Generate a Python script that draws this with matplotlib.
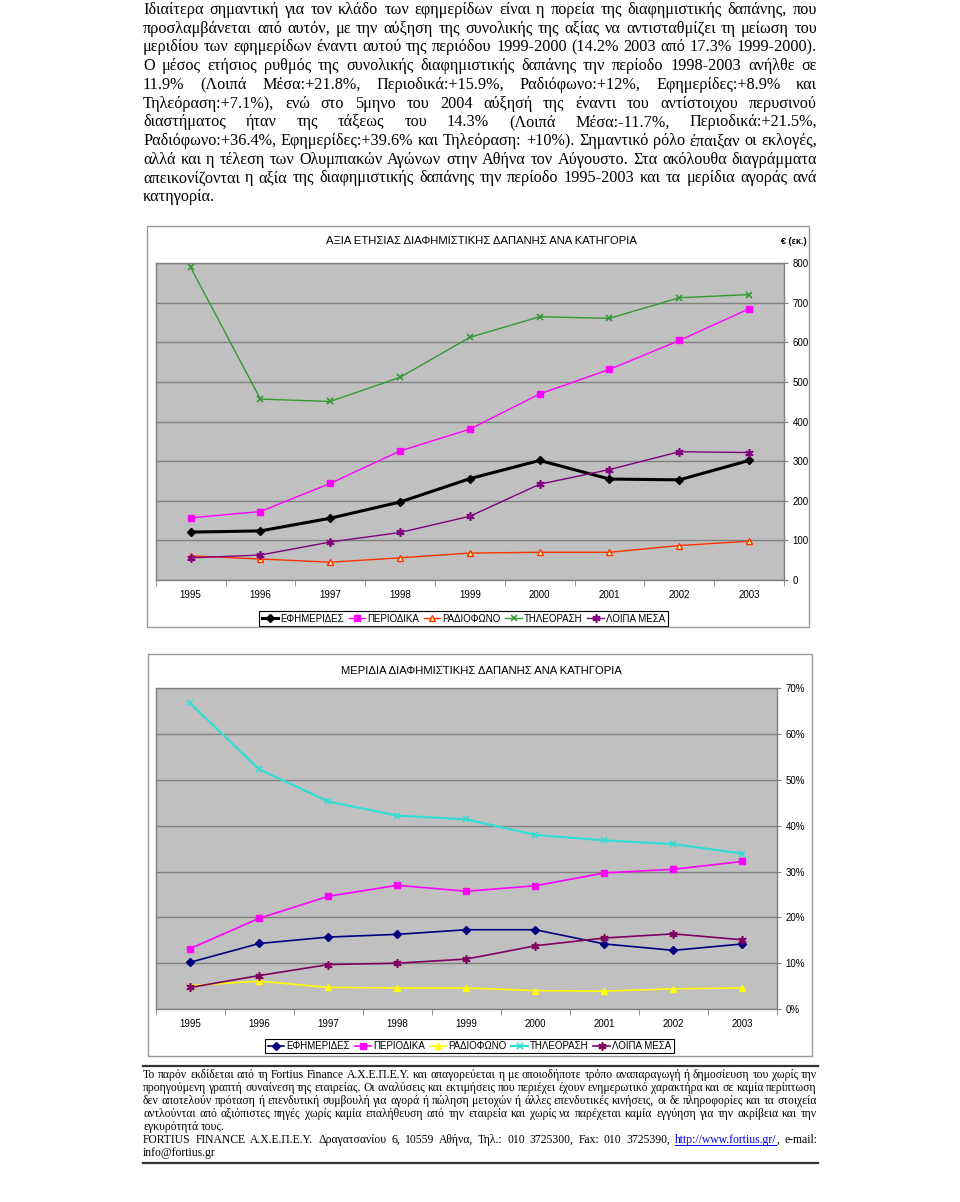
import matplotlib
matplotlib.use('Agg')
import matplotlib.pyplot as plt
from matplotlib.lines import Line2D
from matplotlib.patches import Rectangle
import numpy as np

W, H = 960, 1202
SERIF = 'Liberation Serif'
SANS = 'Liberation Sans'
plt.rcParams['font.family'] = [SANS, 'DejaVu Sans']

years = ['1995', '1996', '1997', '1998', '1999', '2000', '2001', '2002', '2003']
names = ['ΕΦΗΜΕΡΙΔΕΣ', 'ΠΕΡΙΟΔΙΚΑ', 'ΡΑΔΙΟΦΩΝΟ', 'ΤΗΛΕΟΡΑΣΗ', 'ΛΟΙΠΑ ΜΕΣΑ']

# αξία δαπάνης (εκ. €)
val_efimerides = [121, 124, 156, 197, 256, 302, 255, 253, 302]
val_periodika = [157, 173, 244, 326, 381, 470, 532, 605, 685]
val_radiofono = [61, 53, 45, 56, 68, 70, 70, 87, 98]
val_tileorasi = [790, 457, 451, 512, 613, 665, 661, 713, 721]
val_loipa = [56, 63, 96, 120, 161, 242, 279, 324, 322]

# μερίδια (%)
shr_efimerides = [10.2, 14.3, 15.7, 16.3, 17.3, 17.3, 14.2, 12.8, 14.2]
shr_periodika = [13.2, 19.8, 24.6, 27.0, 25.7, 26.9, 29.7, 30.5, 32.2]
shr_radiofono = [5.1, 6.1, 4.7, 4.6, 4.6, 4.0, 3.9, 4.4, 4.6]
shr_tileorasi = [66.7, 52.3, 45.3, 42.2, 41.4, 38.0, 36.8, 36.0, 33.9]
shr_loipa = [4.7, 7.3, 9.7, 10.0, 10.9, 13.8, 15.5, 16.4, 15.1]

title1 = 'ΑΞΙΑ ΕΤΗΣΙΑΣ ΔΙΑΦΗΜΙΣΤΙΚΗΣ ΔΑΠΑΝΗΣ ΑΝΑ ΚΑΤΗΓΟΡΙΑ'
title2 = 'ΜΕΡΙΔΙΑ ΔΙΑΦΗΜΙΣΤΙΚΗΣ ΔΑΠΑΝΗΣ ΑΝΑ ΚΑΤΗΓΟΡΙΑ'
unit1 = '€ (εκ.)'

intro_lines = [
    'Ιδιαίτερα σημαντική για τον κλάδο των εφημερίδων είναι η πορεία της διαφημιστικής δαπάνης, που',
    'προσλαμβάνεται από αυτόν, με την αύξηση της συνολικής της αξίας να αντισταθμίζει τη μείωση του',
    'μεριδίου των εφημερίδων έναντι αυτού της περιόδου 1999-2000 (14.2% 2003 από 17.3% 1999-2000).',
    'Ο μέσος ετήσιος ρυθμός της συνολικής διαφημιστικής δαπάνης την περίοδο 1998-2003 ανήλθε σε',
    '11.9% (Λοιπά Μέσα:+21.8%, Περιοδικά:+15.9%, Ραδιόφωνο:+12%, Εφημερίδες:+8.9% και',
    'Τηλεόραση:+7.1%), ενώ στο 5μηνο του 2004 αύξησή της έναντι του αντίστοιχου περυσινού',
    'διαστήματος ήταν της τάξεως του 14.3% (Λοιπά Μέσα:-11.7%, Περιοδικά:+21.5%,',
    'Ραδιόφωνο:+36.4%, Εφημερίδες:+39.6% και Τηλεόραση: +10%). Σημαντικό ρόλο έπαιξαν οι εκλογές,',
    'αλλά και η τέλεση των Ολυμπιακών Αγώνων στην Αθήνα τον Αύγουστο. Στα ακόλουθα διαγράμματα',
    'απεικονίζονται η αξία της διαφημιστικής δαπάνης την περίοδο 1995-2003 και τα μερίδια αγοράς ανά',
    'κατηγορία.',
]

footer_lines = [
    'Το παρόν εκδίδεται από τη Fortius Finance Α.Χ.Ε.Π.Ε.Υ. και απαγορεύεται η με οποιοδήποτε τρόπο αναπαραγωγή ή δημοσίευση του χωρίς την',
    'προηγούμενη γραπτή συναίνεση της εταιρείας. Οι αναλύσεις και εκτιμήσεις που περιέχει έχουν ενημερωτικό χαρακτήρα και σε καμία περίπτωση',
    'δεν αποτελούν πρόταση ή επενδυτική συμβουλή για αγορά ή πώληση μετοχών ή άλλες επενδυτικές κινήσεις, οι δε πληροφορίες και τα στοιχεία',
    'αντλούνται από αξιόπιστες πηγές χωρίς καμία επαλήθευση από την εταιρεία και χωρίς να παρέχεται καμία εγγύηση για την ακρίβεια και την',
    'εγκυρότητά τους.',
    'FORTIUS FINANCE Α.Χ.Ε.Π.Ε.Υ. Δραγατσανίου 6, 10559 Αθήνα, Τηλ.: 010 3725300, Fax: 010 3725390, http://www.fortius.gr/, e-mail:',
    'info@fortius.gr',
]
link_text = 'http://www.fortius.gr/'


def fx(x):
    return x / W


def fy(y):
    return 1 - y / H


fig = plt.figure(figsize=(W / 100, H / 100), dpi=100)
fig.patch.set_facecolor('white')
r = fig.canvas.get_renderer()


def text_width(s, size):
    t = fig.text(0, 0, s, fontsize=size, family=SERIF)
    w = t.get_window_extent(renderer=r).width
    t.remove()
    return w


def fit_size(lines, base, target):
    # shrink/grow font so the widest justified line fits the text column
    size = base
    for _ in range(2):
        widest = max(text_width(ln, size) for ln in lines)
        size = size * target / widest
    return size


def draw_paragraph(lines, x0, x1, base_y, step, size, last_lines, color='black'):
    space = text_width('a a', size) - text_width('aa', size)
    for i, ln in enumerate(lines):
        y = base_y + i * step
        words = ln.split(' ')
        widths = [text_width(w, size) for w in words]
        if i in last_lines or len(words) == 1:
            gap = space
        else:
            gap = (x1 - x0 - sum(widths)) / (len(words) - 1)
        x = x0
        for w, wd in zip(words, widths):
            if w.startswith(link_text):
                lw_ = text_width(link_text, size)
                fig.text(fx(x), fy(y), link_text, fontsize=size, family=SERIF,
                         color='#0000EE', va='baseline')
                fig.add_artist(Line2D([fx(x), fx(x + lw_)], [fy(y + 1.5)] * 2,
                                      color='#0000EE', lw=0.7))
                fig.text(fx(x + lw_), fy(y), w[len(link_text):], fontsize=size,
                         family=SERIF, color=color, va='baseline')
            else:
                fig.text(fx(x), fy(y), w, fontsize=size, family=SERIF,
                         color=color, va='baseline')
            x += wd + gap


# --- top paragraph ---
intro_size = fit_size(intro_lines[:-1], 12, 670)
draw_paragraph(intro_lines, 143, 817, 14, 18.7, intro_size, last_lines={10})

# --- footer ---
foot_size = fit_size([footer_lines[i] for i in (0, 1, 2, 3, 5)], 8.5, 670)
fig.add_artist(Line2D([fx(143), fx(818)], [fy(1066)] * 2, color='#333333', lw=1.6))
fig.add_artist(Line2D([fx(143), fx(818)], [fy(1163)] * 2, color='#333333', lw=1.6))
draw_paragraph(footer_lines, 143, 817, 1078, 13, foot_size, last_lines={4, 6})


def chart_box(left, top, right, bottom):
    fig.add_artist(Rectangle((fx(left), fy(bottom)), (right - left) / W, (bottom - top) / H,
                             transform=fig.transFigure, fill=False, ec='#9a9a9a', lw=1))


def px_axes(left, top, right, bottom):
    return fig.add_axes([fx(left), fy(bottom), (right - left) / W, (bottom - top) / H])


def style_axes(ax, ymax, step):
    ax.set_facecolor('#C0C0C0')
    for s in ax.spines.values():
        s.set_color('#808080')
        s.set_linewidth(1)
    ax.yaxis.tick_right()
    ax.set_xlim(-0.5, len(years) - 0.5)
    ax.set_ylim(0, ymax)
    ax.set_yticks(np.arange(0, ymax + step / 2, step))
    ax.grid(axis='y', color='#808080', lw=1)
    ax.set_axisbelow(True)
    ax.set_xticks(range(len(years)))
    ax.set_xticklabels(years)
    ax.set_xticks(np.arange(-0.5, len(years), 1), minor=True)
    ax.tick_params(axis='x', which='major', length=0, pad=7, labelsize=7)
    ax.tick_params(axis='x', which='minor', length=4, direction='out', color='#808080')
    ax.tick_params(axis='y', length=3, pad=3, color='#808080', labelsize=7)


def add_legend(ax, cx, cy):
    leg = ax.legend(loc='center', bbox_to_anchor=(fx(cx), fy(cy)), bbox_transform=fig.transFigure,
                    ncol=5, fontsize=7, frameon=True, fancybox=False, edgecolor='black',
                    framealpha=1, handlelength=1.7, handletextpad=0.25, columnspacing=0.45,
                    borderpad=0.25, borderaxespad=0)
    leg.get_frame().set_linewidth(0.8)


star = (6, 2, 0)
x = np.arange(len(years))

# --- chart 1: values ---
chart_box(147, 226, 809, 627)
ax1 = px_axes(155.7, 263.3, 784, 580)
style_axes(ax1, 800, 100)
ax1.plot(x, val_efimerides, color='black', lw=2.2, marker='D', ms=4, label=names[0])
ax1.plot(x, val_periodika, color='#FF00FF', lw=1.0, marker='s', ms=5, label=names[1])
ax1.plot(x, val_radiofono, color='#FF3300', lw=1.0, marker='^', ms=5, mfc='#FFFF99',
         mec='#FF3300', mew=1, label=names[2])
ax1.plot(x, val_tileorasi, color='#339933', lw=1.0, marker='x', ms=5, mew=1.2, label=names[3])
ax1.plot(x, val_loipa, color='#800080', lw=1.0, marker=star, ms=6, mew=1.2, label=names[4])
fig.text(fx(481), fy(241), title1, ha='center', va='center', fontsize=8.1)
fig.text(fx(794), fy(242), unit1, ha='center', va='center', fontsize=6.5, weight='bold')
add_legend(ax1, 463.5, 618.5)

# --- chart 2: shares ---
chart_box(148, 654, 812, 1056)
ax2 = px_axes(155.7, 688.3, 777, 1009)
style_axes(ax2, 70, 10)
ax2.set_yticklabels([f'{v}%' for v in range(0, 71, 10)])
ax2.plot(x, shr_efimerides, color='#000080', lw=1.2, marker='D', ms=4, label=names[0])
ax2.plot(x, shr_periodika, color='#FF00FF', lw=1.2, marker='s', ms=5, label=names[1])
ax2.plot(x, shr_radiofono, color='#FFFF00', lw=1.2, marker='^', ms=5, label=names[2])
ax2.plot(x, shr_tileorasi, color='#33DDD5', lw=1.6, marker='x', ms=5, mew=1.2, label=names[3])
ax2.plot(x, shr_loipa, color='#800060', lw=1.2, marker=star, ms=6, mew=1.2, label=names[4])
fig.text(fx(481), fy(671), title2, ha='center', va='center', fontsize=8.1)
add_legend(ax2, 469.5, 1046)

fig.savefig('out.png', dpi=100)
